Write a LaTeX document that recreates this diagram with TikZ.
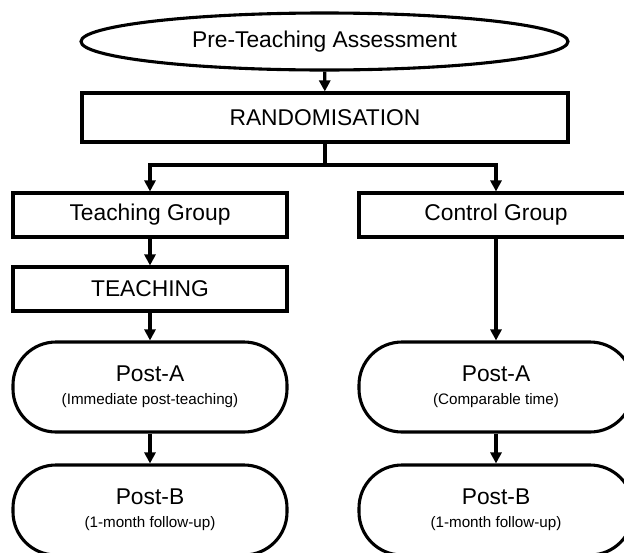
\documentclass[tikz,border=0pt]{standalone}
\usepackage{fontspec}
\setmainfont{Liberation Sans}
\usetikzlibrary{arrows.meta,shapes.geometric}
\tikzset{
  box/.style={draw, line width=3.1pt, rectangle, inner sep=0pt, minimum width=274pt, minimum height=44pt, font=\fontsize{22.8}{26}\selectfont},
  oval/.style={draw, line width=3.1pt, ellipse, inner sep=0pt, minimum width=487pt, minimum height=57pt, font=\fontsize{22.8}{26}\selectfont},
  pill/.style={draw, line width=3.1pt, rectangle, rounded corners=43pt, inner sep=0pt, minimum width=274pt, minimum height=90pt, align=center},
  arr/.style={line width=3.1pt, -{Triangle[length=11pt,width=11pt]}},
  ln/.style={line width=3.1pt}
}
\newcommand{\ttl}[1]{{\fontsize{22.8}{26}\selectfont #1}}
\newcommand{\sbt}[1]{{\fontsize{15.2}{18}\selectfont #1}}
\begin{document}
\begin{tikzpicture}[x=1pt,y=-1pt]
\useasboundingbox (0,0) rectangle (624,552);
\node[oval] (pre) at (324.5,41.5) {Pre-Teaching Assessment};
\node[box, minimum width=486pt, minimum height=49pt] (rand) at (325,117.5) {RANDOMISATION};
\node[box] (tg) at (150,215) {Teaching Group};
\node[box] (cg) at (496,215) {Control Group};
\node[box] (teach) at (150,289) {TEACHING};
\node[pill] (pa1) at (150,387) {\ttl{Post-A}\\[11pt]\sbt{(Immediate post-teaching)}};
\node[pill] (pa2) at (496,387) {\ttl{Post-A}\\[11pt]\sbt{(Comparable time)}};
\node[pill] (pb1) at (150,510) {\ttl{Post-B}\\[11pt]\sbt{(1-month follow-up)}};
\node[pill] (pb2) at (496,510) {\ttl{Post-B}\\[11pt]\sbt{(1-month follow-up)}};
\coordinate (j) at (325,165);
\draw[arr] (pre) -- (rand);
\draw[ln] (rand.south) -- (j);
\draw[arr] (j) -| (tg.north);
\draw[arr] (j) -| (cg.north);
\draw[arr] (tg) -- (teach);
\draw[arr] (teach) -- (pa1);
\draw[arr] (cg) -- (pa2);
\draw[arr] (pa1) -- (pb1);
\draw[arr] (pa2) -- (pb2);
\end{tikzpicture}
\end{document}
